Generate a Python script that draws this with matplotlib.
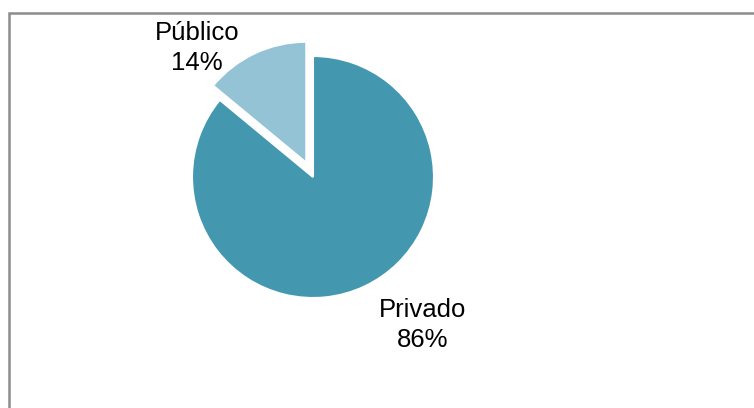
import matplotlib.pyplot as plt
from matplotlib.patches import Rectangle

plt.rcParams['font.family'] = ['Liberation Sans', 'DejaVu Sans']

categories = ['Público', 'Privado']
shares = [14, 86]
colors = ['#94c3d6', '#4398b0']
explode = [0.13, 0]

fig = plt.figure(figsize=(7.54, 4.08), dpi=100)
W, H = 754, 408

# pie area: center (313, 177) px, radius 121 px
cx, cy, r = 313, 177, 121
ax = fig.add_axes([(cx - r) / W, (H - cy - r) / H, 2 * r / W, 2 * r / H])
wedges, _ = ax.pie(shares, colors=colors, explode=explode, startangle=90,
                   counterclock=True, radius=1,
                   wedgeprops=dict(edgecolor='white', linewidth=1.5))
ax.set_xlim(-1, 1)
ax.set_ylim(-1, 1)
ax.set_aspect('equal')
ax.axis('off')

# labels with category name and share
label_pos = {'Público': (197, 48), 'Privado': (423, 325)}
for name, val in zip(categories, shares):
    px, py = label_pos[name]
    fig.text(px / W, 1 - py / H, f'{name}\n{val}%', ha='center', va='center',
             fontsize=18.5, color='#000000', linespacing=1.3)

# chart frame
fig.patches.append(Rectangle((8.5 / W, -0.1), 1.2, 1 - 12.5 / H + 0.1,
                             transform=fig.transFigure, fill=False,
                             edgecolor='#8c8c8c', linewidth=1.8))

fig.savefig('out.png', dpi=100)
